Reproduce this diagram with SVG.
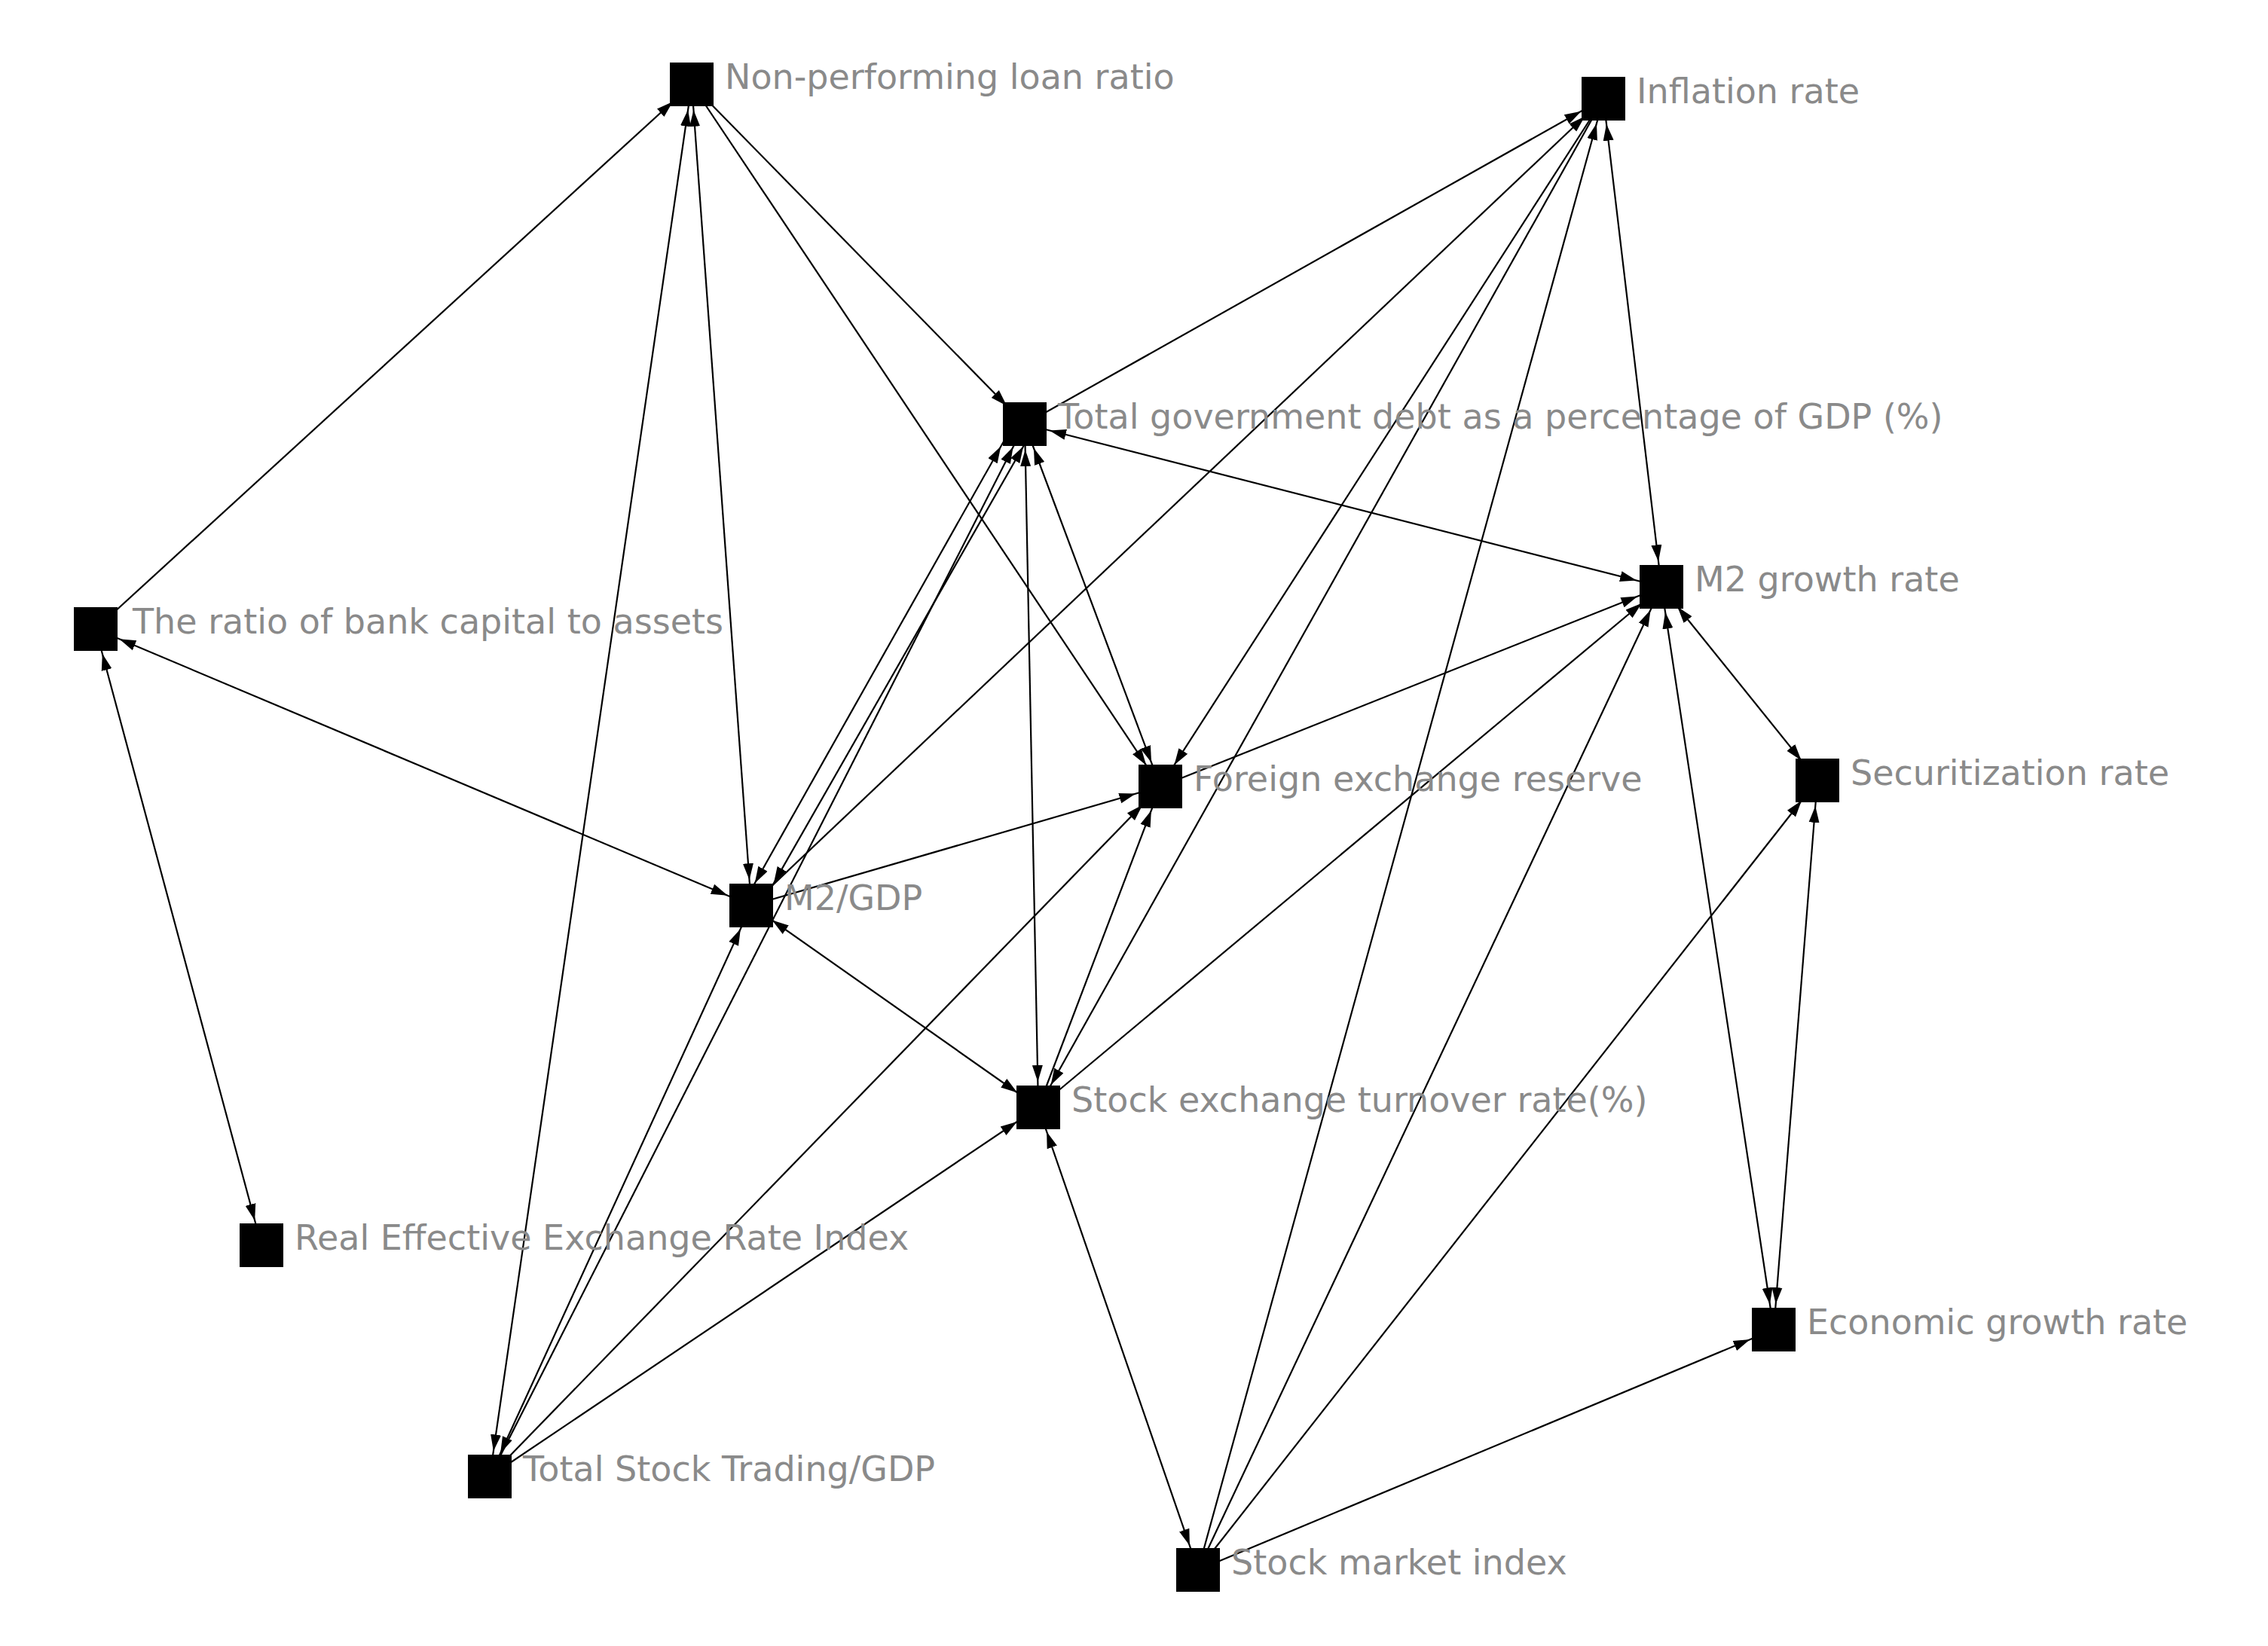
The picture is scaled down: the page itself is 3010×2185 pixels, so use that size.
<svg xmlns="http://www.w3.org/2000/svg" width="3010" height="2185" viewBox="0 0 3010 2185">
<defs>
<marker id="a" markerUnits="userSpaceOnUse" markerWidth="60" markerHeight="20" refX="34" refY="7" orient="auto-start-reverse" viewBox="-22 0 60 14">
<path d="M-22,0 L0,7 L-22,14 Z" fill="#000" transform="translate(0,0)"/>
</marker>
</defs>
<style>
.e{stroke:#000;stroke-width:2.2;fill:none}
.d{marker-start:url(#a);marker-end:url(#a)}
.s{marker-end:url(#a)}
.n rect{fill:#000}
.n text{font-family:"DejaVu Sans",Verdana,sans-serif;font-size:46px;fill:#8a8a8a}
</style>
<rect width="3010" height="2185" fill="#fff"/>
<g id="connectors">
<line class="e s" x1="127" y1="835" x2="918" y2="112"/>
<line class="e d" x1="127" y1="835" x2="997" y2="1202"/>
<line class="e d" x1="127" y1="835" x2="347" y2="1653"/>
<line class="e d" x1="918" y1="112" x2="997" y2="1202"/>
<line class="e d" x1="918" y1="112" x2="650" y2="1960"/>
<line class="e s" x1="918" y1="112" x2="1360" y2="563"/>
<line class="e s" x1="918" y1="112" x2="1540" y2="1044"/>
<line class="e s" x1="1360" y1="563" x2="2128" y2="131"/>
<line class="e d" x1="1360" y1="563" x2="2205" y2="779"/>
<line class="e d" x1="1345" y1="563" x2="985" y2="1202"/>
<line class="e d" x1="1375" y1="563" x2="1010" y2="1202"/>
<line class="e d" x1="1360" y1="563" x2="1540" y2="1044"/>
<line class="e d" x1="1360" y1="563" x2="1378" y2="1470"/>
<line class="e s" x1="650" y1="1960" x2="1360" y2="563"/>
<line class="e s" x1="997" y1="1202" x2="2128" y2="131"/>
<line class="e s" x1="997" y1="1202" x2="1540" y2="1044"/>
<line class="e d" x1="997" y1="1202" x2="1378" y2="1470"/>
<line class="e d" x1="997" y1="1202" x2="650" y2="1960"/>
<line class="e d" x1="2128" y1="131" x2="2205" y2="779"/>
<line class="e s" x1="2128" y1="131" x2="1540" y2="1044"/>
<line class="e s" x1="2128" y1="131" x2="1378" y2="1470"/>
<line class="e s" x1="1590" y1="2084" x2="2128" y2="131"/>
<line class="e s" x1="1540" y1="1044" x2="2205" y2="779"/>
<line class="e s" x1="1378" y1="1470" x2="2205" y2="779"/>
<line class="e s" x1="1378" y1="1470" x2="1540" y2="1044"/>
<line class="e d" x1="2205" y1="779" x2="2412" y2="1036"/>
<line class="e d" x1="2205" y1="779" x2="2354" y2="1765"/>
<line class="e d" x1="2412" y1="1036" x2="2354" y2="1765"/>
<line class="e d" x1="1378" y1="1470" x2="1590" y2="2084"/>
<line class="e s" x1="1590" y1="2084" x2="2412" y2="1036"/>
<line class="e s" x1="1590" y1="2084" x2="2354" y2="1765"/>
<line class="e s" x1="1590" y1="2084" x2="2205" y2="779"/>
<line class="e s" x1="650" y1="1960" x2="1540" y2="1044"/>
<line class="e s" x1="650" y1="1960" x2="1378" y2="1470"/>
</g>
<g id="n1" class="n"><rect x="889" y="83" width="58" height="58"/><text x="962" y="118">Non-performing loan ratio</text></g>
<g id="n2" class="n"><rect x="2099" y="102" width="58" height="58"/><text x="2172" y="137">Inflation rate</text></g>
<g id="n3" class="n"><rect x="1331" y="534" width="58" height="58"/><text x="1404" y="569">Total government debt as a percentage of GDP (%)</text></g>
<g id="n4" class="n"><rect x="98" y="806" width="58" height="58"/><text x="176" y="841">The ratio of bank capital to assets</text></g>
<g id="n5" class="n"><rect x="2176" y="750" width="58" height="58"/><text x="2249" y="785">M2 growth rate</text></g>
<g id="n6" class="n"><rect x="1511" y="1015" width="58" height="58"/><text x="1584" y="1050">Foreign exchange reserve</text></g>
<g id="n7" class="n"><rect x="2383" y="1007" width="58" height="58"/><text x="2456" y="1042">Securitization rate</text></g>
<g id="n8" class="n"><rect x="968" y="1173" width="58" height="58"/><text x="1041" y="1208">M2/GDP</text></g>
<g id="n9" class="n"><rect x="1349" y="1441" width="58" height="58"/><text x="1422" y="1476">Stock exchange turnover rate(%)</text></g>
<g id="n10" class="n"><rect x="318" y="1624" width="58" height="58"/><text x="391" y="1659">Real Effective Exchange Rate Index</text></g>
<g id="n11" class="n"><rect x="2325" y="1736" width="58" height="58"/><text x="2398" y="1771">Economic growth rate</text></g>
<g id="n12" class="n"><rect x="621" y="1931" width="58" height="58"/><text x="694" y="1966">Total Stock Trading/GDP</text></g>
<g id="n13" class="n"><rect x="1561" y="2055" width="58" height="58"/><text x="1634" y="2090">Stock market index</text></g>
</svg>
